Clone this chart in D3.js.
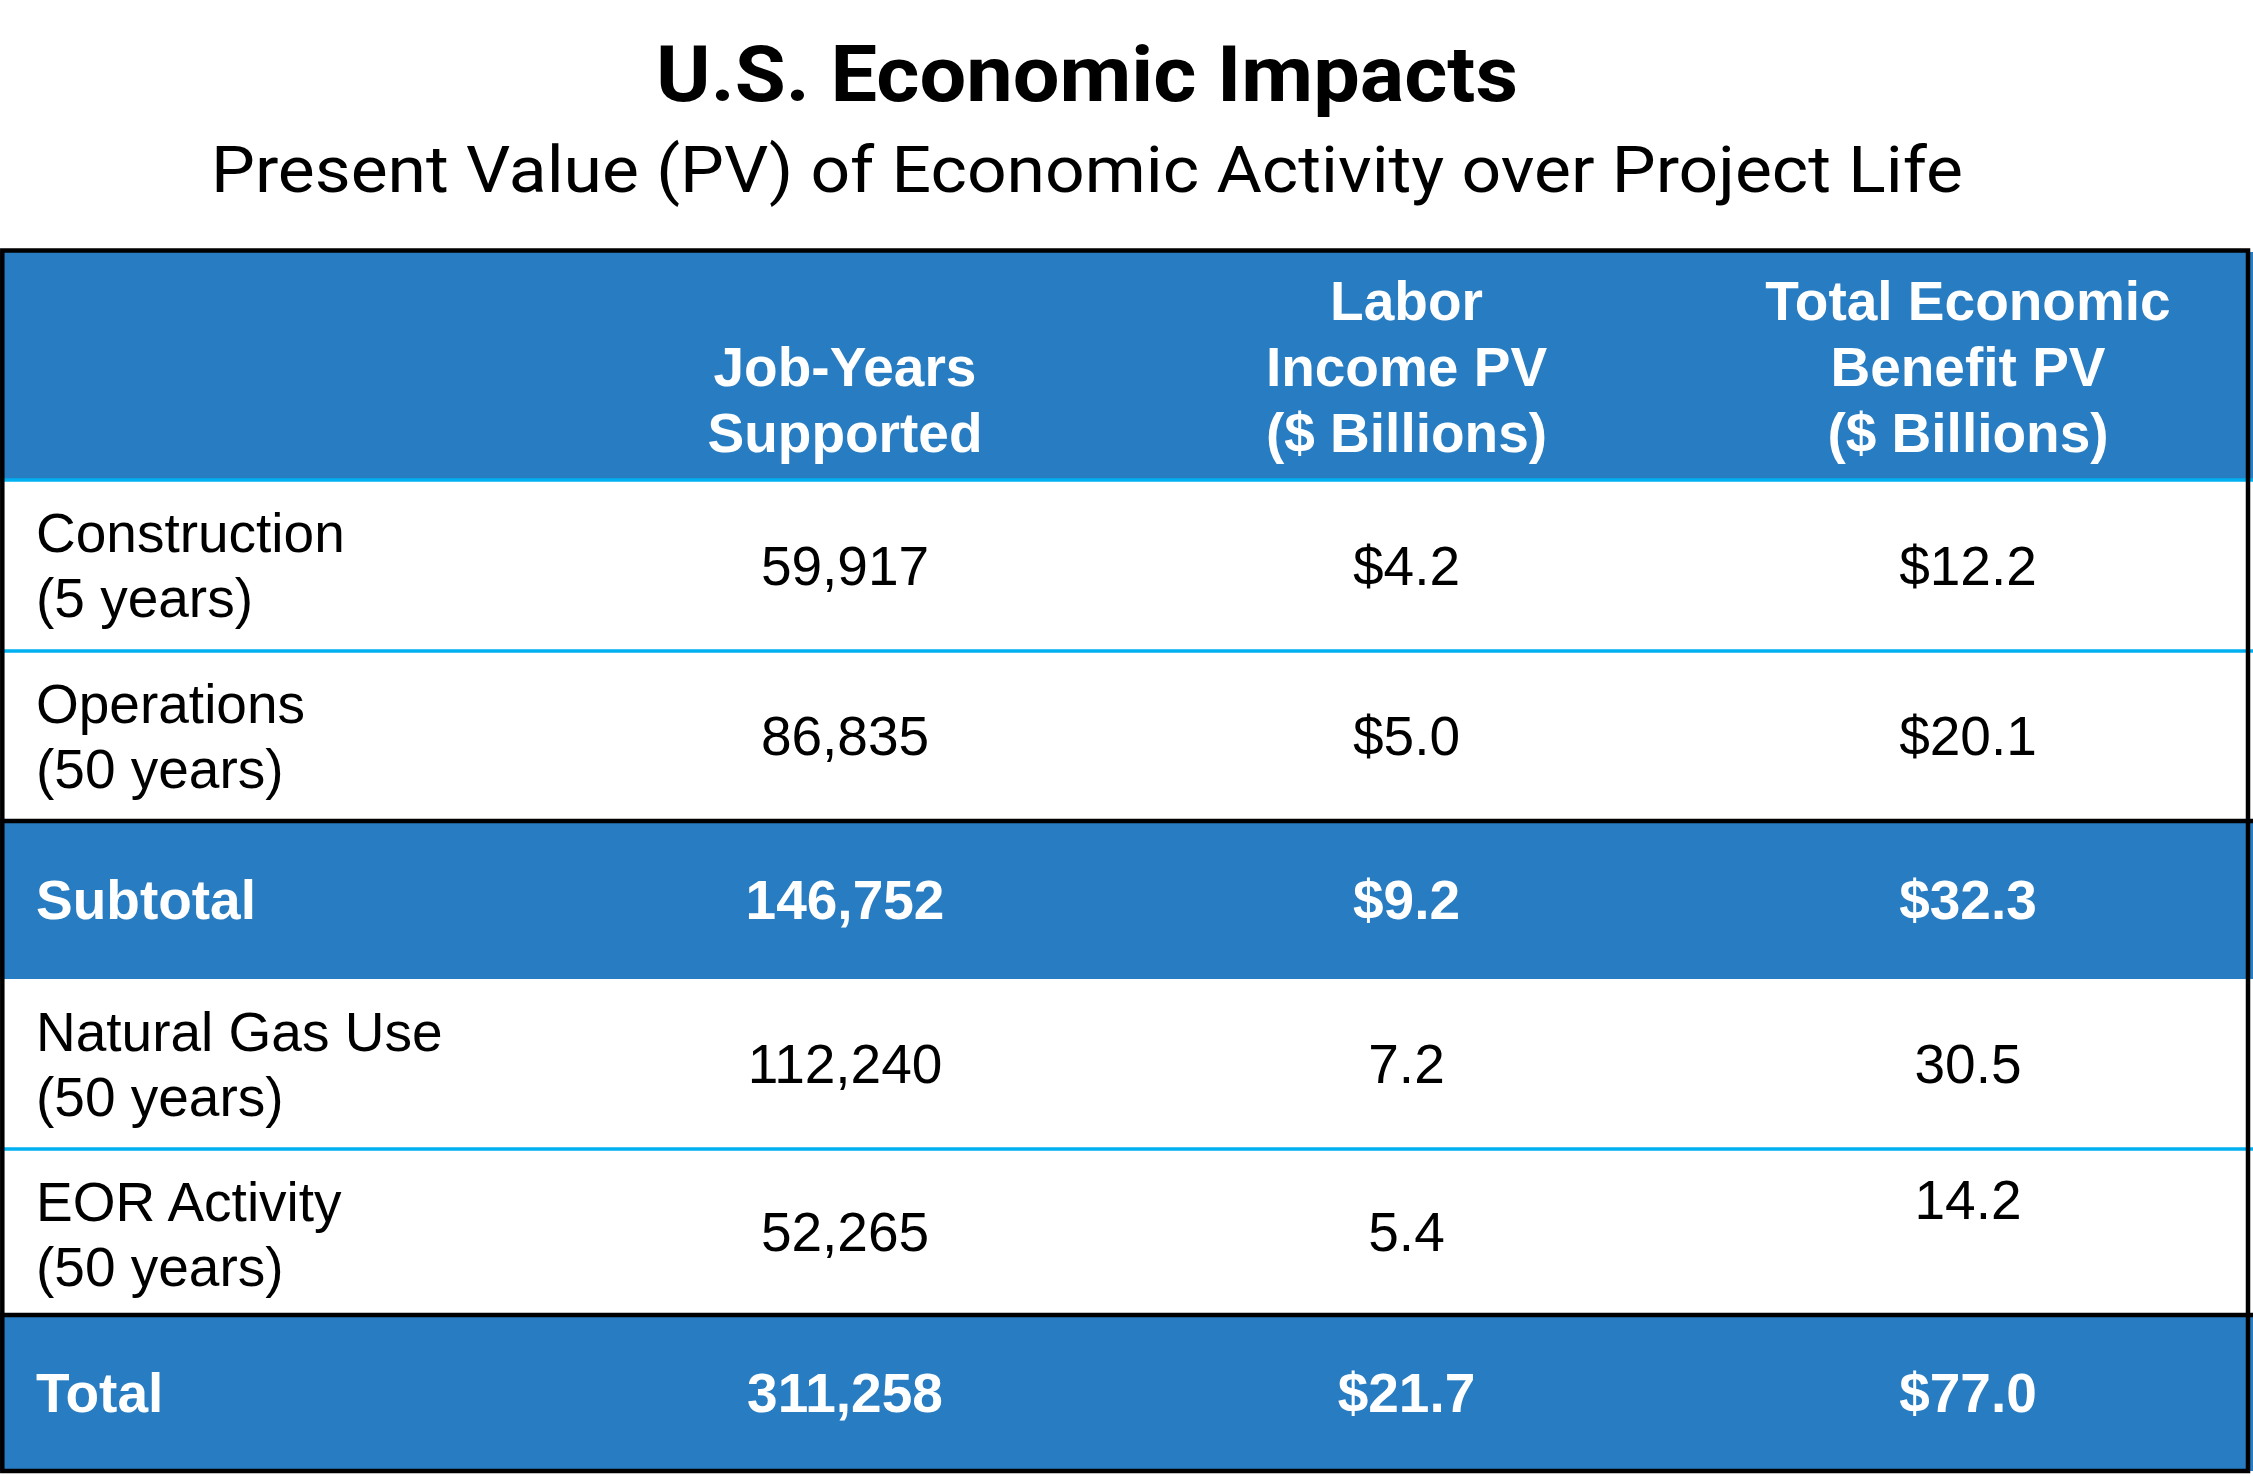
<!DOCTYPE html>
<html>
<head>
<meta charset="utf-8">
<script src="https://cdn.jsdelivr.net/npm/d3@7"></script>
<style>
  html, body { margin: 0; padding: 0; background: #fff; }
  svg { display: block; }
</style>
</head>
<body>
<div id="chart"></div>
<script>
	// table content
	var titleText = 'U.S. Economic Impacts';
	var subtitleText = 'Present Value (PV) of Economic Activity over Project Life';

	var columnHeaders = [
		['Job-Years', 'Supported'],
		['Labor', 'Income PV', '($ Billions)'],
		['Total Economic', 'Benefit PV', '($ Billions)']
	];

	var rowLabels = [
		['Construction', '(5 years)'],
		['Operations', '(50 years)'],
		['Subtotal'],
		['Natural Gas Use', '(50 years)'],
		['EOR Activity', '(50 years)'],
		['Total']
	];
	var rowKinds = ['row', 'row', 'sum', 'row', 'row', 'sum'];

	var jobYears = [59917, 86835, 146752, 112240, 52265, 311258];
	var laborIncome = [4.2, 5.0, 9.2, 7.2, 5.4, 21.7];
	var totalBenefit = [12.2, 20.1, 32.3, 30.5, 14.2, 77.0];
	var dollarSign = [true, true, true, false, false, true];

	var W = 2253, H = 1477;
	var BLUE = '#277cc2', LIGHT = '#00b0f0', INK = '#000';
	var FONT = '"Liberation Sans", Arial, sans-serif';
	var FS = 55;

	var svg = d3.select('#chart')
		.append('svg')
		.attr('width', W)
		.attr('height', H);

	// titles
	svg.append('text')
		.attr('x', 1087)
		.attr('y', 101)
		.attr('text-anchor', 'middle')
		.attr('font-family', 'Roboto, sans-serif')
		.attr('font-weight', 700)
		.attr('font-size', 78)
		.attr('textLength', 862)
		.attr('lengthAdjust', 'spacingAndGlyphs')
		.attr('fill', INK)
		.text(titleText);

	svg.append('text')
		.attr('x', 1087)
		.attr('y', 192)
		.attr('text-anchor', 'middle')
		.attr('font-family', 'Roboto, sans-serif')
		.attr('font-size', 65)
		.attr('textLength', 1752)
		.attr('lengthAdjust', 'spacingAndGlyphs')
		.attr('fill', INK)
		.text(subtitleText);

	// row layout: header then data rows
	var headerTop = 252, headerBottom = 480;
	var rowHeights = [171, 170, 158, 170, 166, 156];
	var rowTops = [];
	var acc = headerBottom;
	rowHeights.forEach(function (h) {
		rowTops.push(acc);
		acc += h;
	});
	var tableBottom = acc;

	var x = d3.scalePoint()
		.domain(d3.range(columnHeaders.length))
		.range([845, 1968]);
	var labelX = 36;

	var fmtJobs = d3.format(',');
	var fmtMoney = d3.format('.1f');

	// header background
	svg.append('rect')
		.attr('x', 0).attr('y', headerTop)
		.attr('width', W).attr('height', headerBottom - headerTop)
		.attr('fill', BLUE);

	// row backgrounds
	svg.selectAll('rect.rowbg')
		.data(rowKinds)
		.enter()
		.append('rect')
		.attr('class', 'rowbg')
		.attr('x', 0)
		.attr('y', function (d, i) { return rowTops[i]; })
		.attr('width', W)
		.attr('height', function (d, i) { return rowHeights[i]; })
		.attr('fill', function (d) { return d === 'sum' ? BLUE : '#fff'; });

	// header text, bottom aligned
	var headerG = svg.append('g');
	columnHeaders.forEach(function (lines, c) {
		var t = headerG.append('text')
			.attr('text-anchor', 'middle')
			.attr('font-family', FONT)
			.attr('font-weight', 700)
			.attr('font-size', FS)
			.attr('fill', '#fff');
		lines.forEach(function (ln, k) {
			t.append('tspan')
				.attr('x', x(c))
				.attr('y', 452 - (lines.length - 1 - k) * 66)
				.text(ln);
		});
	});

	// row text
	rowKinds.forEach(function (kind, i) {
		var top = rowTops[i], h = rowHeights[i];
		var sum = kind === 'sum';
		var col = sum ? '#fff' : INK;
		var mid = top + h / 2 + 19;
		var g = svg.append('g')
			.attr('font-family', FONT)
			.attr('font-size', FS)
			.attr('font-weight', sum ? 700 : 400)
			.attr('fill', col);

		var lab = g.append('text');
		if (sum) {
			lab.append('tspan').attr('x', labelX).attr('y', mid).text(rowLabels[i][0]);
		} else {
			rowLabels[i].forEach(function (ln, k) {
				lab.append('tspan')
					.attr('x', labelX)
					.attr('y', top + 72 + k * 65)
					.text(ln);
			});
		}

		var pre = dollarSign[i] ? '$' : '';
		var vals = [fmtJobs(jobYears[i]), pre + fmtMoney(laborIncome[i]), pre + fmtMoney(totalBenefit[i])];
		vals.forEach(function (v, c) {
			// EOR benefit figure sits on the first label line in the source
			var yy = (rowLabels[i][0] === 'EOR Activity' && c === 2) ? top + 70 : mid;
			g.append('text')
				.attr('x', x(c))
				.attr('y', yy)
				.attr('text-anchor', 'middle')
				.text(v);
		});
	});

	// separator lines between rows
	var seps = [
		{y: headerBottom, c: LIGHT, w: 3.5},
		{y: rowTops[1], c: LIGHT, w: 3.5},
		{y: rowTops[2], c: INK, w: 4.5},
		{y: rowTops[4], c: LIGHT, w: 3.5},
		{y: rowTops[5], c: INK, w: 4.5}
	];
	svg.selectAll('line.sep')
		.data(seps)
		.enter()
		.append('line')
		.attr('class', 'sep')
		.attr('x1', 0).attr('x2', W)
		.attr('y1', function (d) { return d.y; })
		.attr('y2', function (d) { return d.y; })
		.attr('stroke', function (d) { return d.c; })
		.attr('stroke-width', function (d) { return d.w; });

	// outer frame
	svg.append('rect')
		.attr('x', 2.3)
		.attr('y', 250.5)
		.attr('width', 2248 - 2.3)
		.attr('height', tableBottom - 250.5)
		.attr('fill', 'none')
		.attr('stroke', INK)
		.attr('stroke-width', 4.5);
</script>
</body>
</html>
